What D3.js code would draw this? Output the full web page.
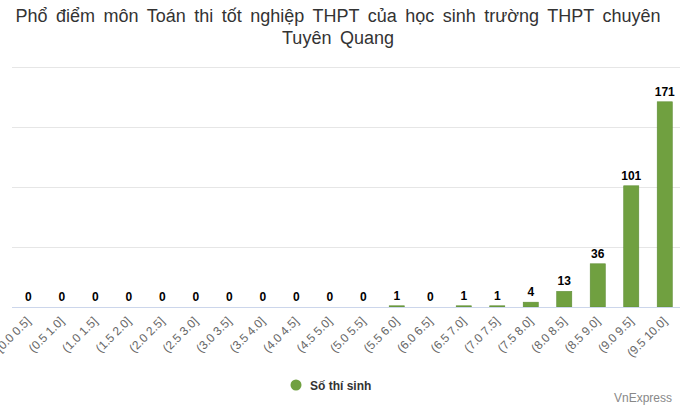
<!DOCTYPE html>
<html>
<head>
<meta charset="utf-8">
<script src="https://cdn.jsdelivr.net/npm/d3@7"></script>
<style>
  body { margin: 0; background: #fff; }
  svg { display: block; font-family: "Liberation Sans", Arial, sans-serif; }
</style>
</head>
<body>
<svg id="chart" width="680" height="408"></svg>
<script>
// score ranges and number of students per range
var categories = ["[0.0 0.5]", "(0.5 1.0]", "(1.0 1.5]", "(1.5 2.0]", "(2.0 2.5]",
	"(2.5 3.0]", "(3.0 3.5]", "(3.5 4.0]", "(4.0 4.5]", "(4.5 5.0]",
	"(5.0 5.5]", "(5.5 6.0]", "(6.0 6.5]", "(6.5 7.0]", "(7.0 7.5]",
	"(7.5 8.0]", "(8.0 8.5]", "(8.5 9.0]", "(9.0 9.5]", "(9.5 10.0]"];
var counts = [0, 0, 0, 0, 0, 0, 0, 0, 0, 0, 0, 1, 0, 1, 1, 4, 13, 36, 101, 171];
var yTicks = [0, 50, 100, 150, 200];
var seriesName = "Số thí sinh";
var titleLines = ["Phổ điểm môn Toán thi tốt nghiệp THPT của học sinh trường THPT chuyên", "Tuyên Quang"];

var svg = d3.select("#chart");
var green = "#70a040";

var x = d3.scaleBand()
	.domain(categories)
	.range([11.5, 681.5])
	.paddingInner(0.55)
	.paddingOuter(0.275);

var y = d3.scaleLinear()
	.domain([0, 200])
	.range([307, 67]);

// title
svg.append("g").selectAll("text")
	.data(titleLines)
	.enter().append("text")
	.attr("x", 338)
	.attr("y", function(d, i) { return 22 + i * 21.5; })
	.attr("text-anchor", "middle")
	.style("font-size", "18px")
	.style("word-spacing", "3.5px")
	.style("fill", "#333")
	.text(function(d) { return d; });

// gridlines (no tick labels on the y axis)
svg.append("g").selectAll("line")
	.data(yTicks.slice(1))
	.enter().append("line")
	.attr("x1", 12)
	.attr("x2", 680)
	.attr("y1", function(d) { return y(d) + 0.5; })
	.attr("y2", function(d) { return y(d) + 0.5; })
	.style("stroke", "#e6e6e6")
	.style("stroke-width", 1);

// bars
svg.append("g").selectAll("rect")
	.data(counts)
	.enter().append("rect")
	.attr("x", function(d, i) { return x(categories[i]); })
	.attr("y", function(d) { return y(d); })
	.attr("width", x.bandwidth())
	.attr("height", function(d) { return y(0) - y(d); })
	.style("fill", green)
	.style("stroke", "#5f8d35")
	.style("stroke-width", 0.6);

// value labels
svg.append("g").selectAll("text")
	.data(counts)
	.enter().append("text")
	.attr("x", function(d, i) { return x(categories[i]) + x.bandwidth() / 2; })
	.attr("y", function(d) { return y(d) - 6; })
	.attr("text-anchor", "middle")
	.style("font-size", "12px")
	.style("font-weight", "bold")
	.style("fill", "#000")
	.text(function(d) { return d; });

// x axis
var xAxis = svg.append("g")
	.attr("transform", "translate(0," + y(0) + ")")
	.call(d3.axisBottom(x).tickSize(0).tickPadding(0));
xAxis.select(".domain")
	.attr("d", "M12,0.5H680")
	.style("stroke", "#ccd6eb");
xAxis.selectAll(".tick text")
	.attr("text-anchor", "end")
	.attr("dy", "0")
	.attr("transform", "translate(3,15) rotate(-45)")
	.style("font-family", "Liberation Sans, Arial, sans-serif")
	.style("font-size", "12px")
	.style("fill", "#666");

// legend
var legend = svg.append("g").attr("transform", "translate(296,385)");
legend.append("circle")
	.attr("r", 5.5)
	.style("fill", green);
legend.append("text")
	.attr("x", 14)
	.attr("y", 4.5)
	.style("font-size", "12px")
	.style("font-weight", "bold")
	.style("fill", "#333")
	.text(seriesName);

// credit
svg.append("text")
	.attr("x", 672)
	.attr("y", 402)
	.attr("text-anchor", "end")
	.style("font-size", "12px")
	.style("fill", "#888")
	.text("VnExpress");
</script>
</body>
</html>
